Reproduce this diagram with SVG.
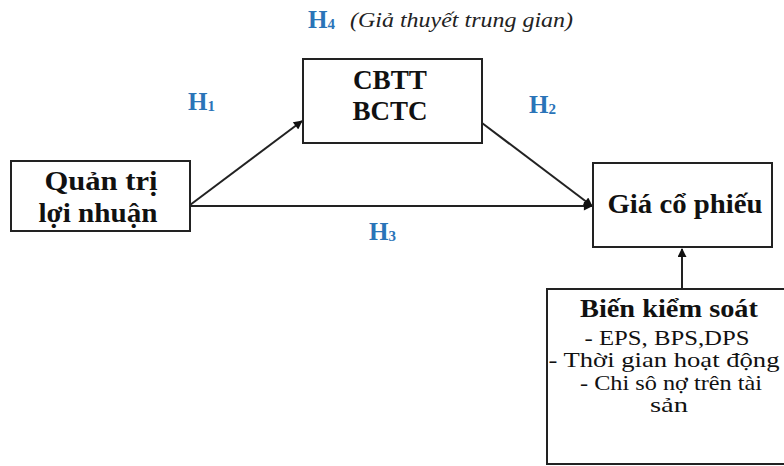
<svg xmlns="http://www.w3.org/2000/svg" width="784" height="466" viewBox="0 0 784 466">
<style>
.box{fill:#fff;stroke:#222;stroke-width:2}
text{font-family:'Liberation Serif','Times New Roman','DejaVu Serif',serif}
.bt{font-weight:bold;font-size:27px;fill:#111;text-anchor:middle}
.rt{font-size:21px;fill:#111;text-anchor:middle}
.h{font-weight:bold;font-size:25px;fill:#2a74b8}
.hs{font-size:15px}
.it{font-style:italic;font-size:21px;fill:#222}
.ln{stroke:#222;stroke-width:2;fill:none;marker-end:url(#ah)}
</style>
<defs>
<marker id="ah" viewBox="0 0 10 10" refX="9" refY="5" markerWidth="10" markerHeight="9" markerUnits="userSpaceOnUse" orient="auto"><path d="M0,0 L10,5 L0,10 z" fill="#111"/></marker>
</defs>
<rect width="784" height="466" fill="#fff"/>
<g id="connectors">
<line class="ln" x1="190" y1="205" x2="302" y2="121"/>
<line class="ln" x1="190" y1="206" x2="592" y2="206"/>
<line class="ln" x1="482" y1="123" x2="592" y2="206"/>
<line class="ln" x1="682" y1="289" x2="682" y2="249"/>
</g>
<g id="labels">
<text x="308" y="28" class="h">H<tspan class="hs" dy="1">4</tspan></text>
<text x="350" y="27" class="it" textLength="223" lengthAdjust="spacingAndGlyphs">(Giả thuyết trung gian)</text>
<text x="188" y="110" class="h">H<tspan class="hs" dy="1">1</tspan></text>
<text x="529" y="113" class="h">H<tspan class="hs" dy="1">2</tspan></text>
<text x="369" y="240" class="h">H<tspan class="hs" dy="1">3</tspan></text>
</g>
<g id="quan-tri">
<rect class="box" x="11" y="161" width="179" height="70"/>
<text class="bt" x="101" y="190" textLength="113" lengthAdjust="spacingAndGlyphs">Quản trị</text>
<text class="bt" x="98" y="222" textLength="119" lengthAdjust="spacingAndGlyphs">lợi nhuận</text>
</g>
<g id="cbtt">
<rect class="box" x="303" y="59" width="179" height="84"/>
<text class="bt" x="390" y="89" textLength="74" lengthAdjust="spacingAndGlyphs">CBTT</text>
<text class="bt" x="390" y="120" textLength="75" lengthAdjust="spacingAndGlyphs">BCTC</text>
</g>
<g id="gia-co-phieu">
<rect class="box" x="593" y="163" width="179" height="84"/>
<text class="bt" x="685" y="213" textLength="155" lengthAdjust="spacingAndGlyphs">Giá cổ phiếu</text>
</g>
<g id="bien-kiem-soat">
<rect class="box" x="547" y="289" width="240" height="175"/>
<text class="bt" x="669" y="317" style="font-size:25px" textLength="178" lengthAdjust="spacingAndGlyphs">Biến kiểm soát</text>
<text class="rt" x="667" y="345" textLength="165" lengthAdjust="spacingAndGlyphs">- EPS, BPS,DPS</text>
<text class="rt" x="664" y="367" textLength="231" lengthAdjust="spacingAndGlyphs">- Thời gian hoạt động</text>
<text class="rt" x="671" y="390" textLength="182" lengthAdjust="spacingAndGlyphs">- Chi sô nợ trên tài</text>
<text class="rt" x="669" y="412" textLength="38" lengthAdjust="spacingAndGlyphs">sản</text>
</g>
</svg>
